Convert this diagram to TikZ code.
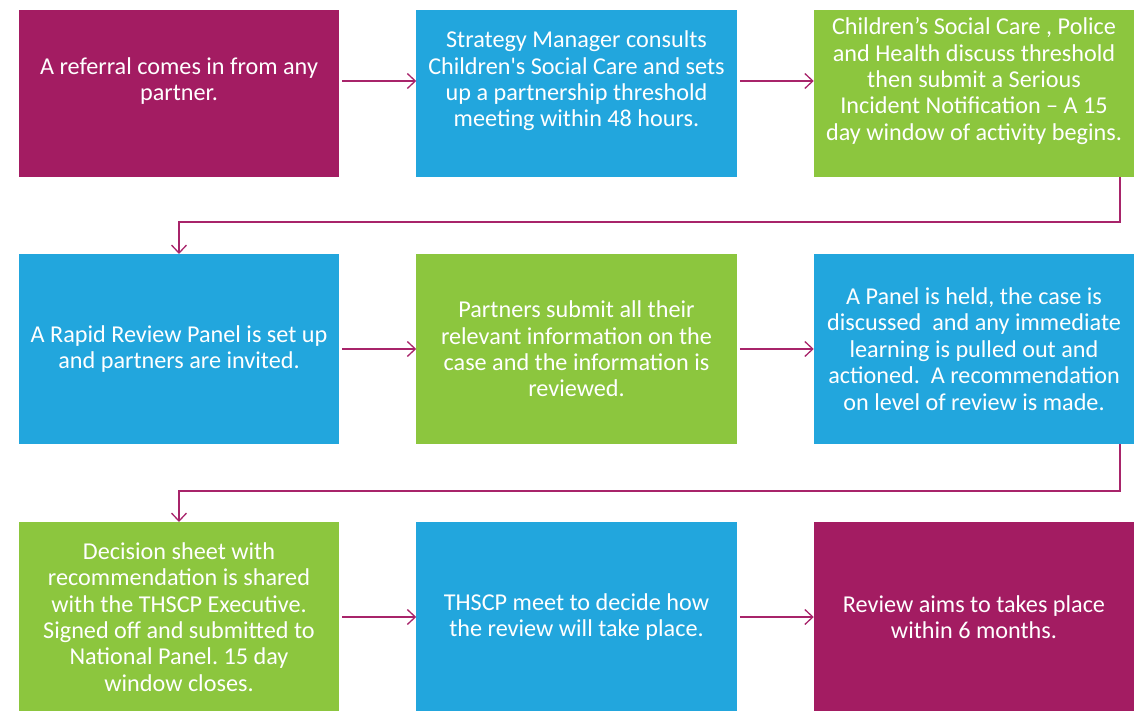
\documentclass[tikz,border=0pt]{standalone}
\usepackage{fontspec}
\setmainfont{Carlito}[Ligatures=TeXOff]
\usetikzlibrary{arrows.meta}
\frenchspacing
\definecolor{mag}{HTML}{A31C62}
\definecolor{blu}{HTML}{22A6DD}
\definecolor{grn}{HTML}{8CC63E}
\definecolor{lnk}{HTML}{A8246A}
\begin{document}
\begin{tikzpicture}[x=1pt,y=-1pt,
  box/.style={rectangle,inner sep=0pt,outer sep=0pt,minimum width=320.5pt,minimum height=#1},
  box/.default=167pt,
  txt/.style={text=white,align=center,inner sep=0pt,font=\fontsize{24.2}{26.4}\selectfont},
  arr/.style={draw=lnk,line width=1.4pt,-{Straight Barb[length=8pt,width=15pt,line width=1.3pt]}}]
\useasboundingbox (0,0) rectangle (1137,711);
% row 1
\node[box,fill=mag] (b1) at (179,93.5) {};
\node[box,fill=blu] (b2) at (576.5,93.5) {};
\node[box,fill=grn] (b3) at (974,93.5) {};
\node[txt] (t1) at (179,81) {A referral comes in from any\\partner.};
\node[txt] (t2) at (576.5,81) {Strategy Manager consults\\Children's Social Care and sets\\up a partnership threshold\\meeting within 48 hours.};
\node[txt] (t3) at (974,81) {Children’s Social Care , Police\\and Health discuss threshold\\then submit a Serious\\Incident Notification – A 15\\day window of activity begins.};
% row 2
\node[box=190pt,fill=blu] (b4) at (179,349) {};
\node[box=190pt,fill=grn] (b5) at (576.5,349) {};
\node[box=190pt,fill=blu] (b6) at (974,349) {};
\node[txt] (t4) at (179,349) {A Rapid Review Panel is set up\\and partners are invited.};
\node[txt] (t5) at (576.5,349) {Partners submit all their\\relevant information on the\\case and the information is\\reviewed.};
\node[txt] (t6) at (974,349) {A Panel is held, the case is\\discussed\ \ and any immediate\\learning is pulled out and\\actioned.\ \ A recommendation\\on level of review is made.};
% row 3
\node[box=190pt,fill=grn] (b7) at (179,617) {};
\node[box=190pt,fill=blu] (b8) at (576.5,617) {};
\node[box=190pt,fill=mag] (b9) at (974,617) {};
\node[txt] (t7) at (179,617) {Decision sheet with\\recommendation is shared\\with the THSCP Executive.\\Signed off and submitted to\\National Panel. 15 day\\window closes.};
\node[txt] (t8) at (576.5,617) {THSCP meet to decide how\\the review will take place.};
\node[txt] (t9) at (974,617) {Review aims to takes place\\within 6 months.};
% horizontal connectors
\draw[arr,shorten <=3pt] (b1.east |- t1) -- (b2.west |- t1);
\draw[arr,shorten <=3pt] (b2.east |- t2) -- (b3.west |- t2);
\draw[arr,shorten <=3pt] (b4.east |- t4) -- (b5.west |- t4);
\draw[arr,shorten <=3pt] (b5.east |- t5) -- (b6.west |- t5);
\draw[arr,shorten <=3pt] (b7.east |- t7) -- (b8.west |- t7);
\draw[arr,shorten <=3pt] (b8.east |- t8) -- (b9.west |- t8);
% elbow connectors
\coordinate (e1) at (1120,222);
\coordinate (e2) at (1120,491);
\draw[arr] (b3.south -| e1) -- (e1) -- (e1 -| b4) -- (b4.north);
\draw[arr] (b6.south -| e2) -- (e2) -- (e2 -| b7) -- (b7.north);
\end{tikzpicture}
\end{document}
